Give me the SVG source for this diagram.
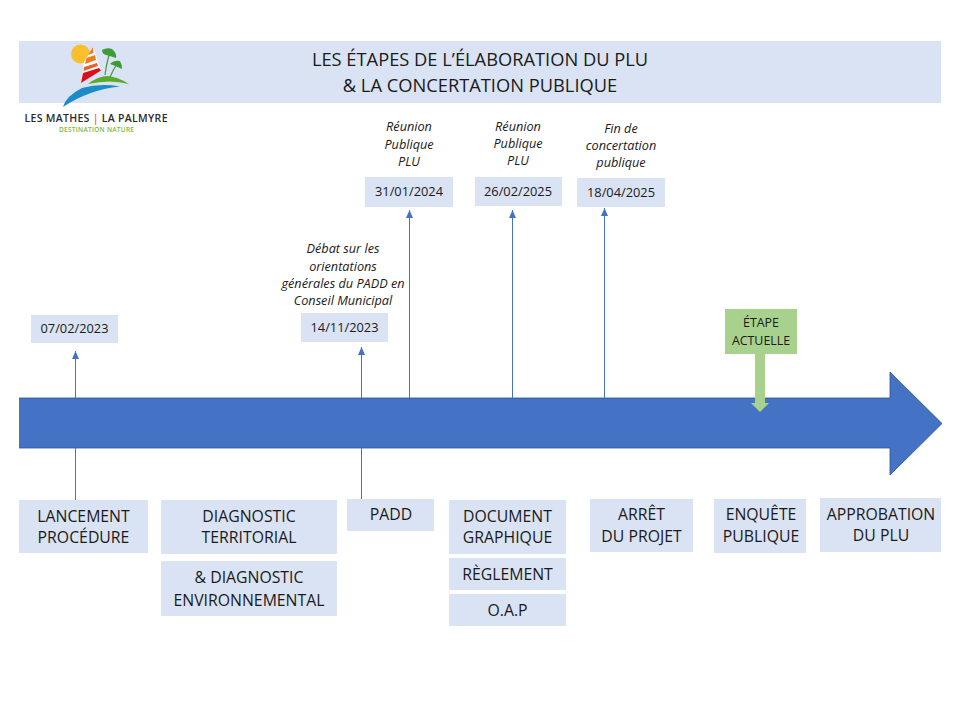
<svg xmlns="http://www.w3.org/2000/svg" width="960" height="720" viewBox="0 0 960 720">
<style>
text{font-family:"Open Sans","Noto Sans","DejaVu Sans",sans-serif;fill:#1a1a1a;text-anchor:middle}
.box{fill:#dae3f3}
.t{font-size:15.800px}
.d{font-size:12.800px}
.n{font-size:12.700px;font-style:italic}
.h{font-size:18.300px}
.c{stroke:#4472c4;stroke-width:1;fill:none;marker-end:url(#ah)}
</style>
<defs>
<marker id="ah" markerUnits="userSpaceOnUse" markerWidth="8" markerHeight="7" refX="8" refY="3.500" orient="auto" viewBox="0 0 8 7"><path d="M0 0L8 3.500L0 7Z" fill="#4472c4"/></marker>
</defs>
<rect width="960" height="720" fill="#fff"/>
<g id="titre"><rect class="box" x="19" y="41" width="922" height="62"/>
<text class="h" x="480" y="65.500">LES ÉTAPES DE L’ÉLABORATION DU PLU</text>
<text class="h" x="480" y="92">&amp; LA CONCERTATION PUBLIQUE</text></g>
<g id="logo">
<circle cx="80.500" cy="54" r="9.500" fill="#f9bf2c"/>
<path d="M93 47L101 70L81 83L84 62Z" fill="#fff"/>
<path d="M93 47L93.500 53L88 55Z" fill="#ee7d22"/>
<path d="M86.500 58L95 55L96 60L85 64Z" fill="#ee7d22"/>
<path d="M84 67L97 63L98 66L83.500 71Z" fill="#e8622c"/>
<path d="M83 73L99 68L101 70.500L81 83Z" fill="#d9101c"/>
<path d="M88 84Q98 76 108 76Q118 77 129 84Q110 79 88 84Z" fill="#5aa928"/>
<path d="M63 107Q66 96 82 88Q100 83 120 86.500Q88 90 63 107Z" fill="#1b8cc7"/>
<path d="M102 50Q107 47 112 49Q117 53 116 58Q110 56 106 55Q102 54 102 50ZM110 64Q114 60 120 61Q122 64 122 69Q116 66 110 64Z" fill="#3f9b35"/>
<path d="M105 75Q106 66 109 55M110 77Q113 70 117 64" stroke="#3f9b35" stroke-width="1.200" fill="none"/>
<text x="96" y="122" font-size="10.500" font-weight="600" textLength="143" lengthAdjust="spacing" style="fill:#2b2b2b">LES MATHES <tspan style="fill:#e8622c">|</tspan> LA PALMYRE</text>
<text x="96.500" y="132" font-size="6.500" font-weight="600" textLength="75" lengthAdjust="spacing" style="fill:#7ab648">DESTINATION NATURE</text>
</g>
<g id="connecteurs">
<path class="c" d="M75.500 500V351"/>
<path class="c" d="M361.500 499V347"/>
<path class="c" d="M409.500 398V210"/>
<path class="c" d="M512.500 398V210"/>
<path class="c" d="M604.500 398V208"/>
</g>
<g id="fleche"><path d="M19 398H890V372L942 423.500L890 475V448H19Z" fill="#4472c4"/>
<path d="M19 398H890V372L942 423.500L890 475V448H19" fill="none" stroke="#2f528f" stroke-width=".8"/></g>
<path d="M75.500 448V500M361.500 448V499" stroke="#4472c4" fill="none"/>
<g id="d1"><rect class="box" x="31" y="315" width="87" height="28"/><text class="d" x="74.500" y="333">07/02/2023</text></g>
<g id="d2"><rect class="box" x="301" y="313" width="87" height="29"/><text class="d" x="344.500" y="332">14/11/2023</text>
<text class="n"><tspan x="343" y="253">Débat sur les</tspan><tspan x="343" y="271">orientations</tspan><tspan x="343" y="288">générales du PADD en</tspan><tspan x="343" y="305">Conseil Municipal</tspan></text></g>
<g id="d3"><rect class="box" x="365" y="177" width="88" height="30"/><text class="d" x="409" y="196">31/01/2024</text>
<text class="n"><tspan x="409" y="131">Réunion</tspan><tspan x="409" y="149">Publique</tspan><tspan x="409" y="166">PLU</tspan></text></g>
<g id="d4"><rect class="box" x="475" y="177" width="87" height="29"/><text class="d" x="518" y="196">26/02/2025</text>
<text class="n"><tspan x="518" y="131">Réunion</tspan><tspan x="518" y="148">Publique</tspan><tspan x="518" y="165">PLU</tspan></text></g>
<g id="d5"><rect class="box" x="577" y="178" width="88" height="29"/><text class="d" x="621" y="197">18/04/2025</text>
<text class="n"><tspan x="621" y="133">Fin de</tspan><tspan x="621" y="150">concertation</tspan><tspan x="621" y="167">publique</tspan></text></g>
<g id="actuelle"><path d="M755 354H765V403H769L760 412L751 403H755Z" fill="#a9d18e"/>
<rect x="725" y="309" width="72" height="45" fill="#a9d18e"/>
<text font-size="12.400"><tspan x="761" y="327">ÉTAPE</tspan><tspan x="761" y="345">ACTUELLE</tspan></text></g>
<g id="n1"><rect class="box" x="19" y="500" width="129" height="53"/><text class="t"><tspan x="83.500" y="522">LANCEMENT</tspan><tspan x="83.500" y="543">PROCÉDURE</tspan></text></g>
<g id="n2"><rect class="box" x="161" y="500" width="176" height="54"/><text class="t"><tspan x="249" y="522">DIAGNOSTIC</tspan><tspan x="249" y="543">TERRITORIAL</tspan></text></g>
<g id="n3"><rect class="box" x="161" y="561" width="176" height="55"/><text class="t"><tspan x="249" y="583">&amp; DIAGNOSTIC</tspan><tspan x="249" y="606">ENVIRONNEMENTAL</tspan></text></g>
<g id="n4"><rect class="box" x="347" y="499" width="87" height="32"/><text class="t" x="391" y="520">PADD</text></g>
<g id="n5"><rect class="box" x="449" y="500" width="117" height="54"/><text class="t"><tspan x="507.500" y="522">DOCUMENT</tspan><tspan x="507.500" y="543">GRAPHIQUE</tspan></text></g>
<g id="n6"><rect class="box" x="449" y="558" width="117" height="32"/><text class="t" x="507.500" y="580">RÈGLEMENT</text></g>
<g id="n7"><rect class="box" x="449" y="594" width="117" height="32"/><text class="t" x="507.500" y="616">O.A.P</text></g>
<g id="n8"><rect class="box" x="590" y="499" width="103" height="53"/><text class="t"><tspan x="641.500" y="520">ARRÊT</tspan><tspan x="641.500" y="542">DU PROJET</tspan></text></g>
<g id="n9"><rect class="box" x="714" y="499" width="92" height="54"/><text class="t"><tspan x="761" y="520">ENQUÊTE</tspan><tspan x="761" y="542">PUBLIQUE</tspan></text></g>
<g id="n10"><rect class="box" x="820" y="498" width="121" height="54"/><text class="t"><tspan x="881" y="520">APPROBATION</tspan><tspan x="881" y="541">DU PLU</tspan></text></g>
</svg>
